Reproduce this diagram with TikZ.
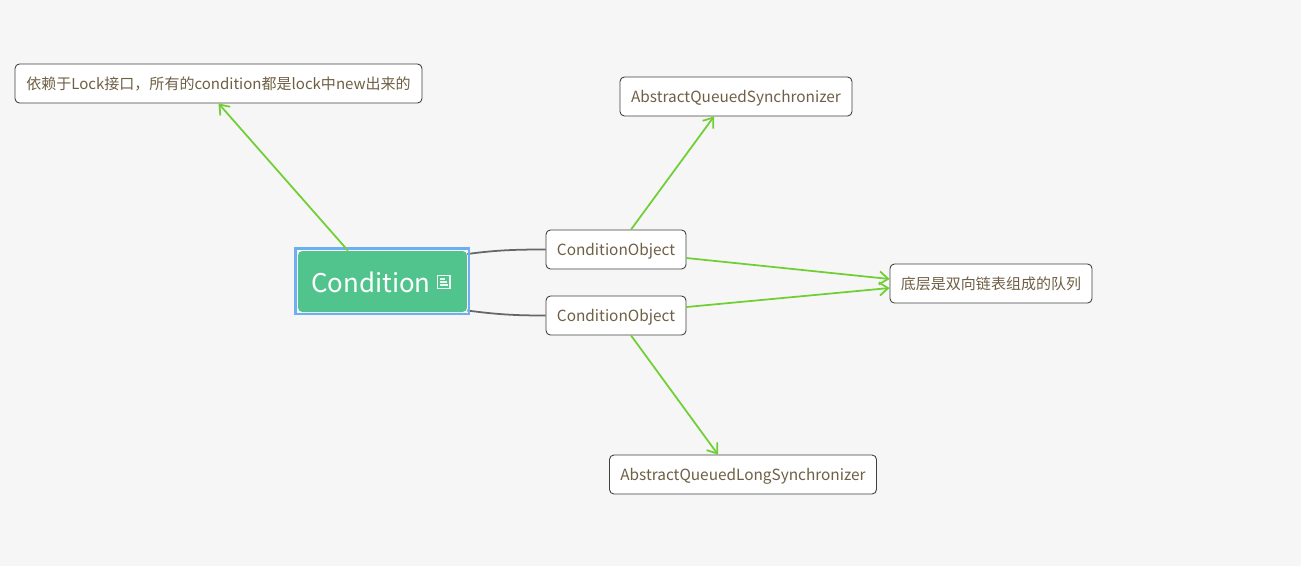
\documentclass[tikz,border=0pt]{standalone}
\usepackage{fontspec}
\setmainfont{Noto Sans CJK SC}
\usepackage{xcolor}
\usetikzlibrary{arrows.meta, positioning}
\definecolor{pagebg}{HTML}{F6F6F6}
\definecolor{rootgreen}{HTML}{51C48D}
\definecolor{linkgreen}{HTML}{6FCF33}
\definecolor{notetext}{HTML}{6F5F45}
\definecolor{selblue}{HTML}{6FAEF2}
\tikzset{
  topicbox/.style={draw=black!75, fill=white, rounded corners=2.5pt, line width=0.5pt, text=notetext, font=\fontsize{8.55}{10}\selectfont, minimum height=0.78cm, inner sep=0pt, text height=0.32cm, text depth=0.1cm},
  wordbox/.style={topicbox, font=\fontsize{8.75}{10}\selectfont},
  rootbox/.style={fill=rootgreen, rounded corners=2.5pt, minimum width=3.38cm, minimum height=1.22cm, inner sep=0pt},
  linkarrow/.style={draw=linkgreen, line width=1pt, -{Straight Barb[length=5pt,width=7.5pt]}},
  branchline/.style={draw=black!60, line width=1pt},
}
\begin{document}
\begin{tikzpicture}[x=0.02cm,y=-0.02cm]
  % page background, 1301x566
  \fill[pagebg] (0,0) rectangle (1301,566);
  % branches
  \node[rootbox] (root) at (382.5,281.5) {};
  \node[wordbox, minimum width=2.8cm] (objA) at (616,249.5) {ConditionObject};
  \node[wordbox, minimum width=2.8cm] (objB) at (616,315.5) {ConditionObject};
  \draw[branchline] ([yshift=0.55cm]root.east) .. controls +(30,-4) and +(-30,0) .. (objA.west);
  \draw[branchline] ([yshift=-0.58cm]root.east) .. controls +(30,4) and +(-30,0) .. (objB.west);
  % topics
  \draw[selblue, line width=1.2pt] (295.5,248.5) rectangle (469,314);
  \node[topicbox, minimum width=8.14cm] (lock) at (218.5,83.5) {依赖于Lock接口，所有的condition都是lock中new出来的};
  \node[wordbox, minimum width=4.64cm] (aqs) at (736,96.5) {AbstractQueuedSynchronizer};
  \node[topicbox, minimum width=4.04cm] (queue) at (991,283.5) {底层是双向链表组成的队列};
  \node[wordbox, minimum width=5.34cm] (aqls) at (743,474.5) {AbstractQueuedLongSynchronizer};
  % root title and note icon
  \node[text=white, font=\fontsize{14.7}{18}\selectfont, inner sep=0pt] (title) at (371,282.5) {Condition};
  \draw[white!90!rootgreen, line width=0.6pt] (437.5,275.5) rectangle (450,288.5);
  \draw[white!90!rootgreen, line width=0.6pt] (440,279)--(445,279) (440,282)--(447,282) (440,285)--(448,285);
  % relations
  \draw[linkarrow] ([xshift=-0.69cm]root.north) -- (lock.south);
  \draw[linkarrow] ([xshift=0.3cm]objA.north) -- ([xshift=-0.44cm]aqs.south);
  \draw[linkarrow] ([yshift=-0.17cm]objA.east) -- ([yshift=0.09cm]queue.west);
  \draw[linkarrow] ([yshift=0.17cm]objB.east) -- ([yshift=-0.09cm]queue.west);
  \draw[linkarrow] ([xshift=0.3cm]objB.south) -- ([xshift=-0.5cm]aqls.north);
\end{tikzpicture}
\end{document}
